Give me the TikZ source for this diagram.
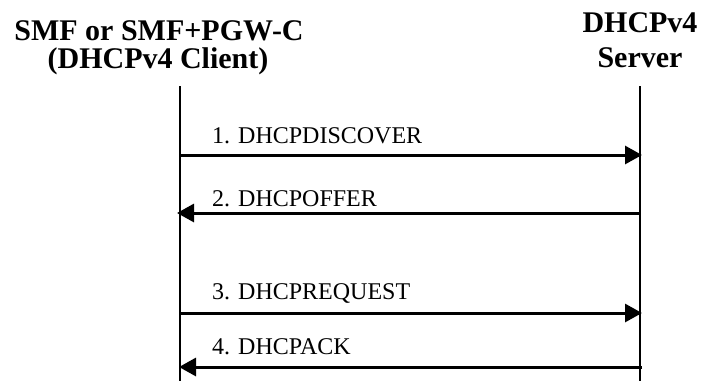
\documentclass[tikz,border=0pt]{standalone}
\usepackage{fontspec}
\setmainfont{Liberation Serif}
\usetikzlibrary{arrows.meta}
\begin{document}
\begin{tikzpicture}[x=1pt,y=-1pt,
  title/.style={font=\fontsize{30}{34}\selectfont\bfseries, inner sep=0pt, anchor=base},
  msglabel/.style={font=\fontsize{24}{28}\selectfont, inner sep=0pt, anchor=base west},
  lifeline/.style={line width=2.5pt},
  msg/.style={line width=3pt, -{Triangle[length=17pt,width=18pt]}}]
\useasboundingbox (0,0) rectangle (702,381);
% titles
\node[title] (cl1) at (159,40) {SMF or SMF+PGW-C};
\node[title] (cl2) at (158,68) {(DHCPv4 Client)};
\node[title] (sv1) at (640,32) {DHCPv4};
\node[title] (sv2) at (640,67) {Server};
% lifelines
\coordinate (ctop) at (180,86);
\coordinate (cbot) at (180,381);
\coordinate (stop) at (640,86);
\coordinate (sbot) at (640,381);
\draw[lifeline] (ctop) -- (cbot);
\draw[lifeline] (stop) -- (sbot);
% message end points
\coordinate (c1) at (180,155); \coordinate (s1) at (642,155);
\coordinate (s2) at (640,213); \coordinate (c2) at (177,213);
\coordinate (c3) at (180,313); \coordinate (s3) at (642,313);
\coordinate (s4) at (642,367); \coordinate (c4) at (179,367);
\draw[msg] (c1) -- (s1);
\draw[msg] (s2) -- (c2);
\draw[msg] (c3) -- (s3);
\draw[msg] (s4) -- (c4);
% labels
\node[msglabel] (l1) at (212,143) {1. DHCPDISCOVER};
\node[msglabel] (l2) at (212,206) {2. DHCPOFFER};
\node[msglabel] (l3) at (212,299) {3. DHCPREQUEST};
\node[msglabel] (l4) at (212,354) {4. DHCPACK};
\end{tikzpicture}
\end{document}
